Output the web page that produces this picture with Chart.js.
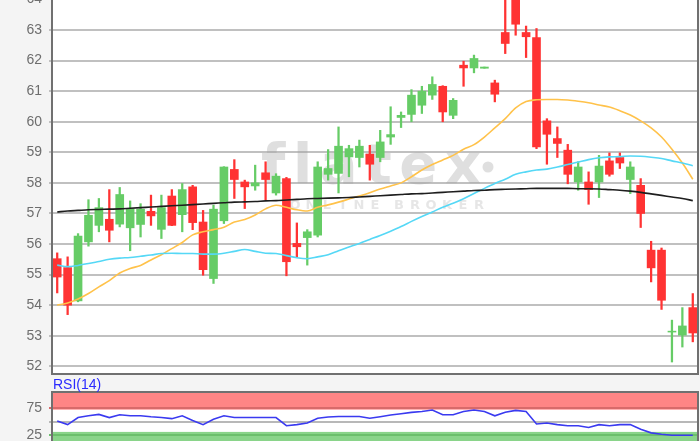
<!DOCTYPE html>
<html><head><meta charset="utf-8">
<script src="https://cdn.jsdelivr.net/npm/chart.js@4"></script>
<style>
html,body{margin:0;padding:0;background:#f4f4f4;width:700px;height:441px;overflow:hidden;position:relative}
#c1{position:absolute;left:0;top:-30px}
#c2{position:absolute;left:0;top:376px}
#rsiLabel{position:absolute;left:53px;top:376px;font:14px "Liberation Sans",Arial,sans-serif;color:#2a2aff;line-height:16px}
</style></head><body>
<canvas id="c1" width="700" height="406"></canvas>
<canvas id="c2" width="700" height="73"></canvas>
<div id="rsiLabel">RSI(14)</div>
<script>
// ---- data ----
const opens  = [55.52,55.23,54.14,56.07,56.61,56.81,56.65,56.53,56.64,57.07,56.48,57.57,56.96,57.87,56.72,54.87,56.76,58.44,58.03,57.90,58.33,57.67,58.14,56.02,56.21,56.29,58.28,58.31,58.85,58.83,58.94,58.83,59.50,60.14,60.24,60.54,60.87,61.16,60.21,61.85,61.76,61.75,61.27,62.92,64.40,62.92,62.75,60.03,59.45,59.07,58.03,58.03,58.03,58.72,58.83,58.11,57.92,55.80,55.80,53.12,53.02,53.92];
const highs  = [55.71,55.58,56.34,57.45,57.49,57.78,57.85,57.41,57.32,57.60,57.60,57.78,57.98,57.92,57.10,57.27,58.53,58.76,58.09,58.58,58.69,58.30,58.18,56.69,56.47,58.69,59.09,59.83,59.23,59.40,59.23,59.72,60.49,60.32,61.05,61.16,61.47,61.18,60.76,61.98,62.18,61.79,61.36,64.05,64.50,63.13,63.05,60.10,59.83,59.26,58.69,58.36,58.90,58.98,58.98,58.69,58.14,56.09,55.87,53.51,53.92,54.38];
const lows   = [54.40,53.69,54.11,55.93,56.40,56.07,56.56,55.78,56.23,56.61,56.18,56.60,56.40,56.47,54.98,54.71,56.67,57.49,57.16,57.76,57.45,57.60,54.96,55.58,55.31,56.23,58.09,57.67,58.20,58.52,58.09,58.69,59.26,59.81,60.00,60.27,60.73,60.00,60.10,61.16,61.60,61.75,60.65,62.23,62.83,62.10,59.12,58.61,58.83,57.97,57.76,57.30,57.52,58.22,58.47,57.65,56.54,54.76,53.86,52.14,52.63,52.80];
const closes = [54.92,54.00,56.26,56.94,57.19,56.45,57.62,57.16,57.14,56.92,57.19,56.61,57.78,56.70,55.16,57.14,58.52,58.11,57.87,58.00,58.11,58.22,55.42,55.91,56.40,58.52,58.47,59.20,59.12,59.20,58.61,59.34,59.58,60.21,60.87,61.00,61.22,60.32,60.70,61.76,62.07,61.79,60.90,62.56,63.19,62.78,59.18,59.59,59.29,58.28,58.52,57.78,58.55,58.28,58.65,58.52,57.00,55.22,54.16,53.15,53.32,53.09];
const maLong = [57.05,57.08,57.10,57.12,57.13,57.14,57.15,57.17,57.19,57.21,57.23,57.25,57.27,57.29,57.31,57.33,57.35,57.37,57.38,57.39,57.41,57.42,57.44,57.46,57.48,57.49,57.50,57.51,57.52,57.54,57.56,57.58,57.60,57.62,57.64,57.65,57.67,57.69,57.71,57.73,57.75,57.76,57.78,57.79,57.80,57.81,57.82,57.82,57.82,57.82,57.81,57.81,57.80,57.78,57.76,57.73,57.69,57.64,57.59,57.54,57.49,57.42];
const maMid  = [55.31,55.26,55.30,55.36,55.43,55.50,55.54,55.56,55.60,55.64,55.69,55.70,55.69,55.69,55.67,55.67,55.70,55.76,55.82,55.76,55.70,55.69,55.62,55.55,55.52,55.58,55.65,55.78,55.90,56.02,56.15,56.28,56.42,56.57,56.74,56.90,57.05,57.20,57.33,57.48,57.65,57.82,57.98,58.12,58.28,58.36,58.42,58.45,58.52,58.60,58.68,58.76,58.82,58.85,58.86,58.88,58.87,58.84,58.80,58.72,58.65,58.56];
const maShort= [54.00,54.07,54.20,54.38,54.60,54.80,55.05,55.20,55.30,55.48,55.65,55.85,56.05,56.30,56.40,56.47,56.55,56.72,56.80,56.95,57.15,57.27,57.20,57.12,57.08,57.20,57.28,57.37,57.47,57.57,57.68,57.80,57.90,58.00,58.20,58.42,58.60,58.75,58.90,59.10,59.25,59.50,59.80,60.10,60.45,60.66,60.72,60.73,60.73,60.71,60.67,60.62,60.55,60.48,60.36,60.22,60.03,59.80,59.50,59.10,58.65,58.12];
const rsi    = [51.4,44.9,57.9,61.2,63.8,57.9,63.2,61.2,61.2,59.3,57.9,55.9,61.2,52.7,44.9,54.6,61.2,57.9,57.9,57.9,57.9,57.9,42.9,44.9,48.0,56.6,59.0,59.8,59.8,59.8,56.6,59.5,62.5,65.0,67.5,69.1,71.7,63.2,63.2,69.1,71.7,69.1,61.2,67.7,71.1,69.1,46.1,48.0,44.9,42.9,42.9,39.6,44.9,42.9,44.9,44.9,36.2,29.7,27.2,25.2,25.2,25.2];
const priceTicks = [52,53,54,55,56,57,58,59,60,61,62,63,64];
const rsiTicks = [25,50,75];
const rsiTickLabels = [25,75];

const GREEN = '#66cc66', RED = '#ff3333';
const idx = opens.map((_, i) => i);
const colorOf = i => closes[i] >= opens[i] ? GREEN : RED;
const pts = arr => arr.map((v, i) => ({x: i, y: v}));

const tickFont = {family: '"Liberation Sans", Arial, sans-serif', size: 14};

const bgPlugin = {
  id: 'bg',
  beforeDraw(chart) {
    const {ctx, chartArea: a} = chart;
    ctx.save();
    ctx.fillStyle = '#ffffff';
    ctx.fillRect(a.left, a.top, a.right - a.left, a.bottom - a.top);
    const bands = chart.options.plugins.bands;
    if (bands && bands.list) {
      const y = chart.scales.y;
      bands.list.forEach(b => {
        const y1 = y.getPixelForValue(b.to), y2 = y.getPixelForValue(b.from);
        ctx.fillStyle = b.color;
        ctx.fillRect(a.left, y1, a.right - a.left, y2 - y1);
      });
    }
    ctx.restore();
  }
};
const framePlugin = {
  id: 'frame',
  afterDraw(chart) {
    const {ctx, chartArea: a} = chart;
    ctx.save();
    ctx.strokeStyle = '#707070';
    ctx.lineWidth = 2;
    ctx.strokeRect(a.left, a.top, a.right - a.left, a.bottom - a.top);
    ctx.restore();
  }
};
const watermarkPlugin = {
  id: 'wm',
  beforeDatasetsDraw(chart) {
    const ctx = chart.ctx;
    const off = 30; // canvas is shifted up by 30px
    ctx.save();
    ctx.fillStyle = 'rgba(160,160,160,0.34)';
    ctx.font = 'bold 56px "DejaVu Sans"';
    ctx.textBaseline = 'alphabetic';
    const word = 'flatex';
    let total = 0; const ws = [];
    for (const ch of word) { const w = ctx.measureText(ch).width; ws.push(w); total += w; }
    const gap = (220 - total) / (word.length - 1);
    let x = 261;
    for (let k = 0; k < word.length; k++) { ctx.fillText(word[k], x, 183 + off); x += ws[k] + gap; }
    ctx.beginPath(); ctx.arc(488, 167 + off, 5.5, 0, Math.PI * 2); ctx.fill();
    ctx.fillStyle = 'rgba(160,160,160,0.26)';
    ctx.font = 'bold 13px "DejaVu Sans"';
    ctx.textAlign = 'center'; ctx.textBaseline = 'middle';
    const sub = 'ONLINE BROKER';
    let cx = 295;
    for (const ch of sub) { if (ch !== ' ') ctx.fillText(ch, cx, 206 + off); cx += (ch === ' ' ? 8 : 16); }
    ctx.restore();
  }
};

new Chart(document.getElementById('c1'), {
  type: 'bar',
  data: { datasets: [
    {type: 'line', data: pts(maLong), borderColor: '#1e1e1e', borderWidth: 1.6, pointRadius: 0, cubicInterpolationMode: 'monotone', order: 0},
    {type: 'line', data: pts(maMid), borderColor: '#55d8f6', borderWidth: 1.6, pointRadius: 0, cubicInterpolationMode: 'monotone', order: 0},
    {type: 'line', data: pts(maShort), borderColor: '#ffc24a', borderWidth: 1.6, pointRadius: 0, cubicInterpolationMode: 'monotone', order: 0},
    {type: 'bar', data: idx.map(i => ({x: i, y: [opens[i], closes[i]]})), backgroundColor: idx.map(colorOf), barThickness: 8, grouped: false, borderWidth: 0, borderSkipped: false, order: 1},
    {type: 'bar', data: idx.map(i => ({x: i, y: [lows[i], highs[i]]})), backgroundColor: idx.map(colorOf), barThickness: 1.6, grouped: false, borderWidth: 0, borderSkipped: false, order: 2}
  ]},
  options: {
    responsive: false, animation: false, events: [],
    layout: {padding: {top: 0, right: 2, bottom: 2, left: 0}},
    plugins: {legend: {display: false}, tooltip: {enabled: false}},
    scales: {
      x: {type: 'linear', min: -0.5, max: 61.5, display: false, offset: false},
      y: {type: 'linear', min: 51.748, max: 64.964,
          afterBuildTicks: s => { s.ticks = priceTicks.map(v => ({value: v})); },
          afterFit: s => { s.width = 52; s.paddingTop = 0; s.paddingBottom = 0; },
          ticks: {color: '#6e6e6e', font: tickFont, padding: 7},
          grid: {color: '#c0c0c0', lineWidth: 2, tickLength: 3, drawTicks: true},
          border: {display: false}}
    }
  },
  plugins: [bgPlugin, watermarkPlugin, framePlugin]
});

new Chart(document.getElementById('c2'), {
  type: 'line',
  data: { datasets: [
    {data: pts(rsi), borderColor: '#3a3af0', borderWidth: 1.6, pointRadius: 0, tension: 0}
  ]},
  options: {
    responsive: false, animation: false, events: [],
    layout: {padding: {top: 16, right: 2, bottom: 0, left: 0}},
    plugins: {legend: {display: false}, tooltip: {enabled: false},
      bands: {list: [{from: 72.5, to: 105, color: '#ff8585'}, {from: 0, to: 31.5, color: '#8ad48a'}]}},
    scales: {
      x: {type: 'linear', min: -0.5, max: 61.5, display: false, offset: false},
      y: {type: 'linear', min: 0, max: 105,
          afterBuildTicks: s => { s.ticks = rsiTicks.map(v => ({value: v})); },
          afterFit: s => { s.width = 52; s.paddingTop = 0; s.paddingBottom = 0; },
          ticks: {color: '#6e6e6e', font: tickFont, padding: 7, callback: v => rsiTickLabels.includes(v) ? String(v) : ''},
          grid: {color: c => c.tick && c.tick.value === 75 ? '#d86a6a' : (c.tick && c.tick.value === 25 ? '#6cbf6c' : '#b8b8b8'), lineWidth: 2, tickLength: 3, drawTicks: true},
          border: {display: false}}
    }
  },
  plugins: [bgPlugin, framePlugin]
});
</script>
</body></html>
